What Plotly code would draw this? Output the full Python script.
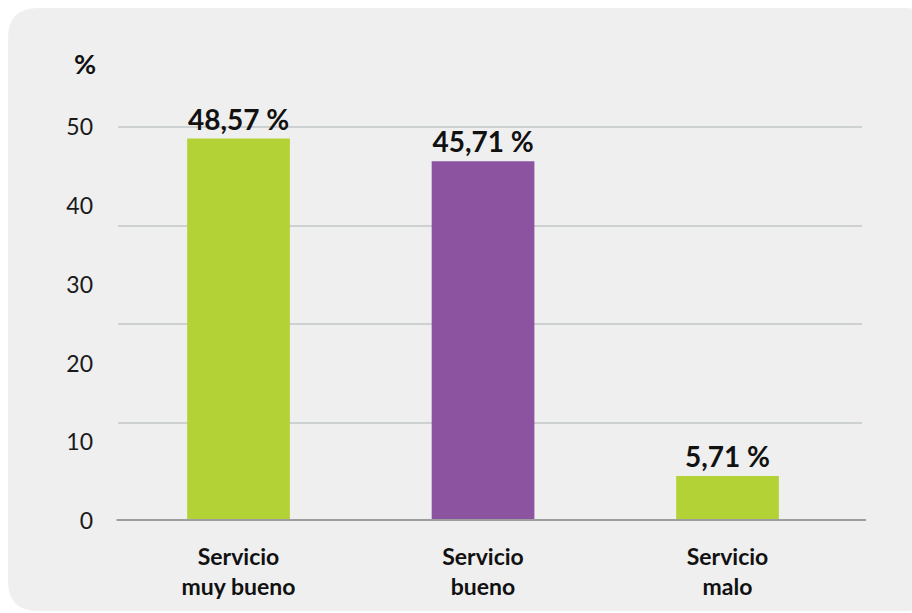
import plotly.graph_objects as go

# Survey results: perceived service quality
categories = ["Servicio<br>muy bueno", "Servicio<br>bueno", "Servicio<br>malo"]
values = [48.57, 45.71, 5.71]
bar_colors = ["#b3d235", "#8b53a0", "#b3d235"]
y_ticks = [0, 10, 20, 30, 40, 50]
grid_levels = [12.5, 25, 37.5, 50]

labels = [f"{v:.2f}".replace(".", ",") + " %" for v in values]

W, H = 912, 613
ML, MR, MT, MB = 118, 50, 88, 92
plot_w = W - ML - MR
plot_h = H - MT - MB


def fx(px):
    return (px - ML) / plot_w


def fy(py):
    return (H - MB - py) / plot_h


# rounded light-grey card behind the chart
x0, x1, y0, y1, r = fx(8), fx(935), fy(8), fy(611), 30
rx, ry = r / plot_w, r / plot_h
card = (
    f"M {x0 + rx},{y0} L {x1 - rx},{y0} Q {x1},{y0} {x1},{y0 - ry} "
    f"L {x1},{y1 + ry} Q {x1},{y1} {x1 - rx},{y1} "
    f"L {x0 + rx},{y1} Q {x0},{y1} {x0},{y1 + ry} "
    f"L {x0},{y0 - ry} Q {x0},{y0} {x0 + rx},{y0} Z"
)

fig = go.Figure(
    go.Bar(
        x=categories,
        y=values,
        marker=dict(color=bar_colors, line=dict(width=0)),
        width=0.42,
        text=labels,
        textposition="outside",
        constraintext="none",
        textfont=dict(family="Lato", size=28, color="#111111", weight="bold"),
        cliponaxis=False,
        hoverinfo="skip",
    )
)

fig.update_layout(
    width=W,
    height=H,
    margin=dict(l=ML, r=MR, t=MT, b=MB),
    paper_bgcolor="white",
    plot_bgcolor="rgba(0,0,0,0)",
    font=dict(family="Lato", color="#1a1a1a"),
    showlegend=False,
    shapes=[
        dict(type="path", path=card, xref="paper", yref="paper",
             fillcolor="#efefef", line=dict(width=0), layer="below"),
        dict(type="line", xref="paper", yref="y", x0=-0.002, x1=fx(866),
             y0=0, y1=0, line=dict(color="#9e9e9e", width=4), layer="above"),
    ],
    annotations=[
        dict(text="%", xref="paper", yref="paper", x=fx(85), y=fy(63),
             showarrow=False,
             font=dict(family="Lato", size=27, color="#111111", weight="bold"),
             xanchor="center", yanchor="middle"),
    ],
)

fig.update_xaxes(
    range=[-0.493, 2.55],
    showgrid=False,
    showline=False,
    zeroline=False,
    ticks="",
    tickfont=dict(family="Lato", size=23, color="#111111", weight="bold"),
    ticklabelstandoff=20,
)

fig.update_yaxes(
    range=[0, 55],
    tickmode="array",
    tickvals=y_ticks,
    ticktext=[str(t) for t in y_ticks],
    showgrid=False,
    zeroline=False,
    showline=False,
    ticks="",
    tickfont=dict(family="Lato", size=23, color="#1a1a1a"),
    ticklabelstandoff=24,
    minor=dict(tickmode="array", tickvals=grid_levels, showgrid=True,
               gridcolor="#cdd1d1", gridwidth=2, ticks=""),
)

fig.write_html("out.html")
